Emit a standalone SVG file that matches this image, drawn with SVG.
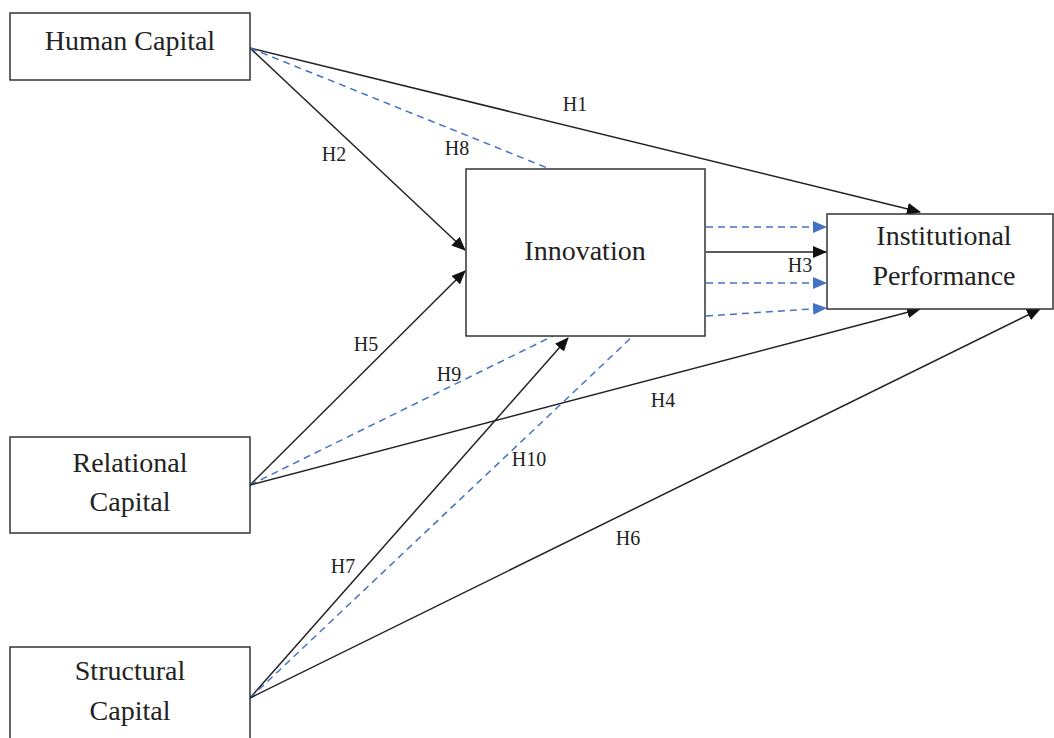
<svg xmlns="http://www.w3.org/2000/svg" width="1054" height="738" viewBox="0 0 1054 738">
<style>
.box{fill:#fff;stroke:#333;stroke-width:1.5}
.t{font-family:"Liberation Serif","Times New Roman",serif;font-size:28px;fill:#222;text-anchor:middle}
.l{font-family:"Liberation Serif","Times New Roman",serif;font-size:20px;fill:#222;text-anchor:middle}
.s{stroke:#222;stroke-width:1.5;fill:none}
.d{stroke:#4472C4;stroke-width:1.5;fill:none;stroke-dasharray:7 5}
</style>
<defs>
<marker id="ab" markerUnits="userSpaceOnUse" markerWidth="14" markerHeight="12" refX="13" refY="6" orient="auto"><path d="M0,0 L14,6 L0,12 z" fill="#111"/></marker>
<marker id="ad" markerUnits="userSpaceOnUse" markerWidth="14" markerHeight="12" refX="13" refY="6" orient="auto"><path d="M0,0 L14,6 L0,12 z" fill="#4472C4"/></marker>
</defs>
<rect width="1054" height="738" fill="#fff"/>
<g id="connectors">
<line class="s" x1="250" y1="48" x2="920" y2="212" marker-end="url(#ab)"/>
<line class="s" x1="250" y1="48" x2="465" y2="250" marker-end="url(#ab)"/>
<line class="d" x1="250" y1="48" x2="550" y2="169"/>
<line class="d" x1="706" y1="227" x2="826" y2="227" marker-end="url(#ad)"/>
<line class="s" x1="706" y1="252" x2="826" y2="252" marker-end="url(#ab)"/>
<line class="d" x1="706" y1="283" x2="826" y2="283" marker-end="url(#ad)"/>
<line class="d" x1="706" y1="316" x2="826" y2="308" marker-end="url(#ad)"/>
<line class="s" x1="250" y1="485" x2="465" y2="271" marker-end="url(#ab)"/>
<line class="d" x1="250" y1="485" x2="553" y2="336"/>
<line class="s" x1="250" y1="485" x2="920" y2="309" marker-end="url(#ab)"/>
<line class="s" x1="250" y1="698" x2="568" y2="338" marker-end="url(#ab)"/>
<line class="d" x1="250" y1="698" x2="633" y2="336"/>
<line class="s" x1="250" y1="698" x2="1040" y2="309" marker-end="url(#ab)"/>
<text class="l" x="575" y="111">H1</text>
<text class="l" x="334" y="161">H2</text>
<text class="l" x="457" y="155">H8</text>
<text class="l" x="800" y="272">H3</text>
<text class="l" x="366" y="351">H5</text>
<text class="l" x="449" y="381">H9</text>
<text class="l" x="663" y="407">H4</text>
<text class="l" x="529" y="466">H10</text>
<text class="l" x="628" y="545">H6</text>
<text class="l" x="343" y="573">H7</text>
</g>
<g id="human-capital">
<rect class="box" x="10" y="13" width="240" height="67"/>
<text class="t" x="130" y="50">Human Capital</text>
</g>
<g id="innovation">
<rect class="box" x="466" y="169" width="239" height="167"/>
<text class="t" x="585" y="260">Innovation</text>
</g>
<g id="institutional-performance">
<rect class="box" x="827" y="214" width="226" height="95"/>
<text class="t" x="944" y="245">Institutional</text>
<text class="t" x="944" y="285">Performance</text>
</g>
<g id="relational-capital">
<rect class="box" x="10" y="437" width="240" height="96"/>
<text class="t" x="130" y="472">Relational</text>
<text class="t" x="130" y="511">Capital</text>
</g>
<g id="structural-capital">
<rect class="box" x="10" y="647" width="240" height="110"/>
<text class="t" x="130" y="680">Structural</text>
<text class="t" x="130" y="720">Capital</text>
</g>
</svg>
